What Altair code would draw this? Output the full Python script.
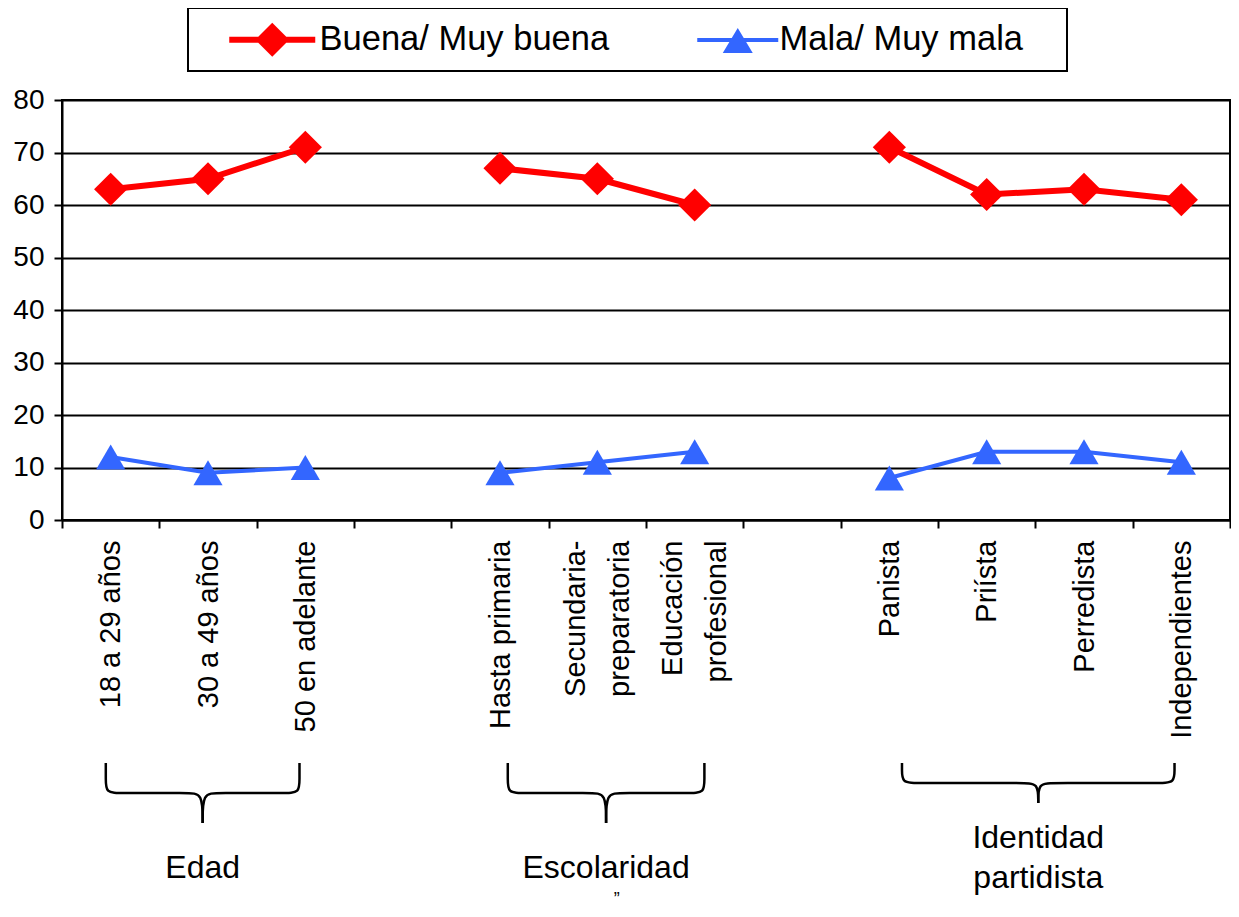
import altair as alt
import pandas as pd

# ---------------- data ----------------
categorias = ["18 a 29 años", "30 a 49 años", "50 en adelante", " ",
              "Hasta primaria", "Secundaria-\npreparatoria", "Educación\nprofesional", "  ",
              "Panista", "Priísta", "Perredista", "Independientes"]
grupo = ["Edad", "Edad", "Edad", None,
         "Escolaridad", "Escolaridad", "Escolaridad", None,
         "Identidad", "Identidad", "Identidad", "Identidad"]
buena = [63, 65, 71, None, 67, 65, 60, None, 71, 62, 63, 61]
mala = [12, 9, 10, None, 9, 11, 13, None, 8, 13, 13, 11]
series = ["Buena/ Muy buena", "Mala/ Muy mala"]
colores = ["#FF0000", "#3366FF"]
y_ticks = [0, 10, 20, 30, 40, 50, 60, 70, 80]

# group annotations (braces below the axis labels)
grupo_texto = ["Edad", "Escolaridad", "Identidad\npartidista"]
llave_inicio = [-0.05, 4.08, 8.13]      # in category-index units
llave_fin = [1.94, 6.1, 10.93]
llave_arriba = [243, 243, 243]          # px below the x axis
llave_medio = [273, 273, 263]
llave_punta = [303, 303, 283]
texto_y = [348, 348, 318]

FONT = "Liberation Sans"
W, H = 1168, 420

rows = []
for i, c in enumerate(categorias):
    for s, vals in zip(series, [buena, mala]):
        if vals[i] is not None:
            rows.append({"categoria": c, "grupo": grupo[i], "serie": s, "valor": vals[i]})
df = pd.DataFrame(rows)

# brace geometry
r_px = 14
rx = r_px / (W / len(categorias))
brace_rows = []
for g in range(len(grupo_texto)):
    a, b = llave_inicio[g], llave_fin[g]
    c = (a + b) / 2
    top, mid, tip = llave_arriba[g], llave_medio[g], llave_punta[g]
    for side, x0, sgn in (("L", a, 1), ("R", b, -1)):
        pts = [(x0, top), (x0, mid - r_px), (x0, mid), (x0 + sgn * rx, mid),
               (c - sgn * rx, mid), (c, mid), (c, tip)]
        for k, (xx, vv) in enumerate(pts):
            brace_rows.append({"pieza": f"{g}{side}", "orden": k, "xi": xx, "v": vv})
df_brace = pd.DataFrame(brace_rows)
df_lab = pd.DataFrame({"texto": grupo_texto,
                       "xi": [(a + b) / 2 for a, b in zip(llave_inicio, llave_fin)],
                       "v": texto_y})
df_extra = pd.DataFrame({"texto": ["\u201d"], "xi": [5.2], "v": [371]})

# ---------------- encodings ----------------
multi = "isString(datum.value) && indexof(datum.value, '\\n') >= 0"
x_enc = alt.X("categoria:N",
              scale=alt.Scale(domain=categorias, paddingInner=0, paddingOuter=0),
              axis=alt.Axis(title=None, labelAngle=270, labelAlign="right", labelBaseline="middle",
                            labelExpr="isString(datum.value) ? split(datum.value, '\\n') : ''",
                            labelOffset=alt.condition(multi, alt.value(-22), alt.value(0)),
                            labelFontSize=29, labelFont=FONT,
                            labelColor="black", labelPadding=12, labelLineHeight=44,
                            labelLimit=500, labelOverlap=False,
                            tickBand="extent", tickSize=8, tickWidth=2, tickColor="black",
                            domainColor="black", domainWidth=2))
y_enc = alt.Y("valor:Q",
              scale=alt.Scale(domain=[0, 80], nice=False, zero=False),
              axis=alt.Axis(title=None, values=y_ticks, grid=True, gridColor="black", gridWidth=2,
                            labelFontSize=28, labelFont=FONT, labelColor="black", labelPadding=10,
                            tickSize=8, tickWidth=2, tickColor="black",
                            domainColor="black", domainWidth=2))

base = alt.Chart(df)
b_data = base.transform_filter(alt.datum.serie == series[0])
m_data = base.transform_filter(alt.datum.serie == series[1])

linea_b = b_data.mark_line(color=colores[0], strokeWidth=6).encode(x=x_enc, y=y_enc, detail="grupo:N")
puntos_b = b_data.mark_point(shape="diamond", filled=True, size=1100, color=colores[0], opacity=1).encode(x=x_enc, y=y_enc)
linea_m = m_data.mark_line(color=colores[1], strokeWidth=4).encode(x=x_enc, y=y_enc, detail="grupo:N")
puntos_m = m_data.mark_point(shape="triangle-up", filled=True, size=850, color=colores[1], opacity=1).encode(x=x_enc, y=y_enc)

# legend symbols: line + marker (unit = 10 px)
path_b = "M1.0,-0.3H9.6V0.3H1.0Z M5.3,-1.7L7.0,0L5.3,1.7L3.6,0Z"
path_m = "M1.8,-0.2H9.9V0.2H1.8Z M5.85,-1.2L7.35,1.3L4.35,1.3Z M37.3,0"

leg = alt.Legend(title=None, orient="none", legendX=126, legendY=-92, direction="horizontal",
                 columnPadding=52, padding=14, strokeColor="black", fillColor="white",
                 symbolSize=400, symbolStrokeWidth=0, symbolOpacity=1,
                 labelFont=FONT, labelFontSize=34.5, labelColor="black", labelOffset=83, labelLimit=600)

leyenda = base.mark_point(filled=True, opacity=0, size=10).encode(
    x=x_enc, y=y_enc,
    color=alt.Color("serie:N", scale=alt.Scale(domain=series, range=colores), legend=leg),
    shape=alt.Shape("serie:N", scale=alt.Scale(domain=series, range=[path_b, path_m]), legend=leg),
)

principal = alt.layer(linea_b, puntos_b, linea_m, puntos_m, leyenda)

xa = alt.X("xi:Q", scale=alt.Scale(domain=[-0.5, len(categorias) - 0.5], nice=False, zero=False), axis=None)
ya = alt.Y("v:Q", scale=alt.Scale(domain=[0, -H], nice=False, zero=False), axis=None)

llaves = alt.Chart(df_brace).mark_line(interpolate="basis", color="black", strokeWidth=2.5).encode(
    x=xa, y=ya, detail="pieza:N", order="orden:Q")
etiquetas = alt.Chart(df_lab).mark_text(font=FONT, fontSize=32, lineBreak="\n", lineHeight=40,
                                        color="black", align="center", baseline="middle").encode(
    x=xa, y=ya, text="texto:N")
extras = alt.Chart(df_extra).mark_text(font=FONT, fontSize=18, color="black", align="center",
                                       baseline="top").encode(x=xa, y=ya, text="texto:N")

anotacion = alt.layer(llaves, etiquetas, extras)

chart = (
    alt.layer(principal, anotacion)
    .resolve_scale(x="independent", y="independent")
    .properties(width=W, height=H,
                autosize=alt.AutoSizeParams(type="none"),
                padding={"left": 54, "top": 92, "right": 1, "bottom": 389})
    .configure_view(stroke="black", strokeWidth=2)
    .configure_legend(strokeWidth=2)
)

chart.save("out.html", embed_options={"renderer": "svg", "actions": False})
